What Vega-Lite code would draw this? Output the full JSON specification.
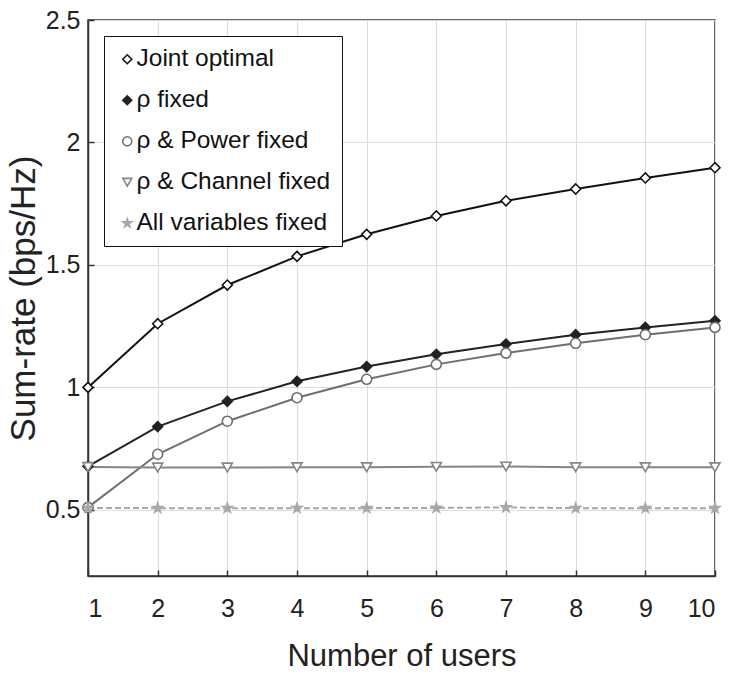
{
  "$schema": "https://vega.github.io/schema/vega-lite/v6.json",
  "width": 627,
  "height": 556,
  "autosize": {"type": "none"},
  "padding": {"left": 88, "top": 20, "right": 17, "bottom": 100},
  "background": "white",
  "config": {
    "font": "Liberation Sans",
    "view": {"stroke": "#333", "strokeWidth": 1.5},
    "legend": {
      "title": null, "orient": "none", "legendX": 16, "legendY": 16,
      "strokeColor": "#111", "fillColor": "white", "padding": 11,
      "labelFontSize": 24.5, "labelColor": "#111", "labelFont": "Liberation Sans",
      "rowPadding": 16, "symbolSize": 80, "labelOffset": -3,
      "symbolStrokeWidth": 1.6, "labelLimit": 400
    }
  },
  "data": {
    "values": [
      {"users": 1, "rate": 1.0, "series": "Joint optimal"},
      {"users": 2, "rate": 1.26, "series": "Joint optimal"},
      {"users": 3, "rate": 1.418, "series": "Joint optimal"},
      {"users": 4, "rate": 1.535, "series": "Joint optimal"},
      {"users": 5, "rate": 1.625, "series": "Joint optimal"},
      {"users": 6, "rate": 1.70, "series": "Joint optimal"},
      {"users": 7, "rate": 1.762, "series": "Joint optimal"},
      {"users": 8, "rate": 1.81, "series": "Joint optimal"},
      {"users": 9, "rate": 1.855, "series": "Joint optimal"},
      {"users": 10, "rate": 1.897, "series": "Joint optimal"},
      {"users": 1, "rate": 0.678, "series": "ρ fixed"},
      {"users": 2, "rate": 0.84, "series": "ρ fixed"},
      {"users": 3, "rate": 0.943, "series": "ρ fixed"},
      {"users": 4, "rate": 1.025, "series": "ρ fixed"},
      {"users": 5, "rate": 1.085, "series": "ρ fixed"},
      {"users": 6, "rate": 1.135, "series": "ρ fixed"},
      {"users": 7, "rate": 1.177, "series": "ρ fixed"},
      {"users": 8, "rate": 1.215, "series": "ρ fixed"},
      {"users": 9, "rate": 1.245, "series": "ρ fixed"},
      {"users": 10, "rate": 1.272, "series": "ρ fixed"},
      {"users": 1, "rate": 0.51, "series": "ρ & Power fixed"},
      {"users": 2, "rate": 0.727, "series": "ρ & Power fixed"},
      {"users": 3, "rate": 0.862, "series": "ρ & Power fixed"},
      {"users": 4, "rate": 0.958, "series": "ρ & Power fixed"},
      {"users": 5, "rate": 1.033, "series": "ρ & Power fixed"},
      {"users": 6, "rate": 1.094, "series": "ρ & Power fixed"},
      {"users": 7, "rate": 1.14, "series": "ρ & Power fixed"},
      {"users": 8, "rate": 1.18, "series": "ρ & Power fixed"},
      {"users": 9, "rate": 1.215, "series": "ρ & Power fixed"},
      {"users": 10, "rate": 1.245, "series": "ρ & Power fixed"},
      {"users": 1, "rate": 0.675, "series": "ρ & Channel fixed"},
      {"users": 2, "rate": 0.673, "series": "ρ & Channel fixed"},
      {"users": 3, "rate": 0.673, "series": "ρ & Channel fixed"},
      {"users": 4, "rate": 0.674, "series": "ρ & Channel fixed"},
      {"users": 5, "rate": 0.674, "series": "ρ & Channel fixed"},
      {"users": 6, "rate": 0.676, "series": "ρ & Channel fixed"},
      {"users": 7, "rate": 0.677, "series": "ρ & Channel fixed"},
      {"users": 8, "rate": 0.674, "series": "ρ & Channel fixed"},
      {"users": 9, "rate": 0.674, "series": "ρ & Channel fixed"},
      {"users": 10, "rate": 0.674, "series": "ρ & Channel fixed"},
      {"users": 1, "rate": 0.508, "series": "All variables fixed"},
      {"users": 2, "rate": 0.507, "series": "All variables fixed"},
      {"users": 3, "rate": 0.507, "series": "All variables fixed"},
      {"users": 4, "rate": 0.507, "series": "All variables fixed"},
      {"users": 5, "rate": 0.507, "series": "All variables fixed"},
      {"users": 6, "rate": 0.508, "series": "All variables fixed"},
      {"users": 7, "rate": 0.51, "series": "All variables fixed"},
      {"users": 8, "rate": 0.507, "series": "All variables fixed"},
      {"users": 9, "rate": 0.507, "series": "All variables fixed"},
      {"users": 10, "rate": 0.507, "series": "All variables fixed"}
    ]
  },
  "encoding": {
    "x": {
      "field": "users", "type": "quantitative",
      "scale": {"domain": [1, 10], "nice": false, "zero": false},
      "axis": {
        "title": "Number of users", "values": [1,2,3,4,5,6,7,8,9,10],
        "grid": true, "gridColor": "#dcdcdc", "gridWidth": 1,
        "domainColor": "#333", "domainWidth": 1.5,
        "tickColor": "#333", "tickSize": -6, "tickWidth": 1.5,
        "labelFontSize": 25, "labelColor": "#222", "labelPadding": 26,
        "labelFont": "Liberation Sans",
        "titleFontSize": 31, "titleFontWeight": "normal", "titleColor": "#222",
        "titlePadding": 20, "titleFont": "Liberation Sans"
      }
    },
    "y": {
      "field": "rate", "type": "quantitative",
      "scale": {"domain": [0.23, 2.5], "nice": false, "zero": false},
      "axis": {
        "title": "Sum-rate (bps/Hz)", "values": [0.5, 1, 1.5, 2, 2.5], "format": "~g",
        "grid": true, "gridColor": "#dcdcdc", "gridWidth": 1,
        "domainColor": "#333", "domainWidth": 1.5,
        "tickColor": "#333", "tickSize": -6, "tickWidth": 1.5,
        "labelFontSize": 25, "labelColor": "#222", "labelPadding": 14,
        "labelFont": "Liberation Sans",
        "titleFontSize": 35, "titleFontWeight": "normal", "titleColor": "#222",
        "titlePadding": 4, "titleFont": "Liberation Sans"
      }
    }
  },
  "layer": [
    {
      "transform": [{"filter": "datum.series !== 'All variables fixed'"}],
      "mark": {"type": "line", "strokeWidth": 2},
      "encoding": {
        "stroke": {
          "field": "series", "type": "nominal",
          "scale": {
            "domain": ["Joint optimal", "ρ fixed", "ρ & Power fixed", "ρ & Channel fixed", "All variables fixed"],
            "range": ["#111111", "#222222", "#6e6e6e", "#858585", "#a8a8a8"]
          }
        }
      }
    },
    {
      "transform": [{"filter": "datum.series === 'All variables fixed'"}],
      "mark": {"type": "line", "strokeWidth": 2, "strokeDash": [6, 3]},
      "encoding": {
        "stroke": {
          "field": "series", "type": "nominal",
          "scale": {
            "domain": ["Joint optimal", "ρ fixed", "ρ & Power fixed", "ρ & Channel fixed", "All variables fixed"],
            "range": ["#111111", "#222222", "#6e6e6e", "#858585", "#a8a8a8"]
          }
        }
      }
    },
    {
      "mark": {"type": "point", "size": 100, "strokeWidth": 1.6, "opacity": 1},
      "encoding": {
        "stroke": {
          "field": "series", "type": "nominal",
          "scale": {
            "domain": ["Joint optimal", "ρ fixed", "ρ & Power fixed", "ρ & Channel fixed", "All variables fixed"],
            "range": ["#111111", "#222222", "#6e6e6e", "#858585", "#a8a8a8"]
          }
        },
        "fill": {
          "field": "series", "type": "nominal",
          "scale": {
            "domain": ["Joint optimal", "ρ fixed", "ρ & Power fixed", "ρ & Channel fixed", "All variables fixed"],
            "range": ["white", "#222222", "white", "white", "#a8a8a8"]
          }
        },
        "shape": {
          "field": "series", "type": "nominal",
          "scale": {
            "domain": ["Joint optimal", "ρ fixed", "ρ & Power fixed", "ρ & Channel fixed", "All variables fixed"],
            "range": ["diamond", "diamond", "circle", "triangle-down", "M0,-1L0.2245,-0.309L0.951,-0.309L0.363,0.118L0.588,0.809L0,0.382L-0.588,0.809L-0.363,0.118L-0.951,-0.309L-0.2245,-0.309Z"]
          }
        }
      }
    }
  ]
}
